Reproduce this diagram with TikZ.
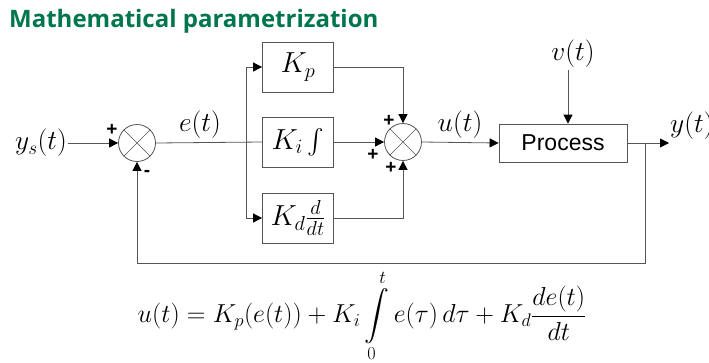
\RequirePackage{fix-cm}
\documentclass[tikz,border=0pt]{standalone}
\usepackage{fontspec}
\usepackage{amsmath}
\newfontfamily\titlefont{Open Sans}
\newfontfamily\procfont{Liberation Sans}
\usetikzlibrary{arrows.meta,calc}
\definecolor{titlegreen}{RGB}{0,118,76}
\definecolor{linegray}{RGB}{85,85,85}
\begin{document}
\begin{tikzpicture}[x=1pt,y=-1pt,
  wire/.style={draw=linegray,line width=0.8pt},
  arr/.style={wire,-{Triangle[length=9pt,width=9pt,color=black]}},
  block/.style={draw=linegray,line width=0.8pt,fill=white,minimum width=71pt,minimum height=50pt,inner sep=0pt,font=\fontsize{29}{33}\selectfont},
  sumnode/.style={circle,draw=linegray,line width=0.8pt,minimum size=37pt,inner sep=0pt},
  lab/.style={font=\fontsize{27.5}{31}\selectfont,inner sep=1pt},
  sign/.style={font=\procfont\bfseries\fontsize{19}{19}\selectfont,inner sep=0pt}]
\useasboundingbox (0,0) rectangle (709,362);
\node[anchor=base west,text=titlegreen,font=\titlefont\bfseries\fontsize{24}{28}\selectfont,inner sep=0pt] (title) at (9,27) {Mathematical parametrization};
% summing junctions
\node[sumnode] (s1) at (137,143) {};
\draw[linegray,line width=0.6pt] (s1.north west) -- (s1.south east) (s1.north east) -- (s1.south west);
\node[sumnode] (s2) at (403,142) {};
\draw[linegray,line width=0.6pt] (s2.north west) -- (s2.south east) (s2.north east) -- (s2.south west);
% blocks
\node[block] (kp) at (298,67) {$K_p$};
\node[block] (ki) at (298,142) {$K_i\int$};
\node[block] (kd) at (298,218) {$K_d\frac{d}{dt}$};
\node[draw=linegray,line width=0.8pt,minimum width=128pt,minimum height=38pt,inner sep=0pt,font=\procfont\fontsize{23}{27}\selectfont] (proc) at (563,143) {Process};
% labels
\node[lab] (ys) at (41,143) {$y_s(t)$};
\node[lab] (e) at (200,125) {$e(t)$};
\node[lab] (u) at (460,125) {$u(t)$};
\node[lab] (v) at (573,54) {$v(t)$};
\node[lab,anchor=west] (y) at (669,126) {$y(t)$};
% coordinates
\coordinate (br) at (246,142);
\coordinate (fb) at (645,143);
\coordinate (fbr) at (645,263);
\coordinate (fbl) at (137,263);
\coordinate (yend) at (669,143);
\coordinate (vtop) at (568,70);
% connectors
\draw[arr] (ys.east) -- (s1.west);
\draw[wire] (s1.east) -- (ki.west);
\draw[arr] (br) |- (kp.west);
\draw[arr] (br) |- (kd.west);
\draw[arr] (kp.east) -| (s2.north);
\draw[arr] (kd.east) -| (s2.south);
\draw[arr] (ki.east) -- (s2.west);
\draw[arr] (s2.east) -- (proc.west);
\draw[arr] (vtop) -- (vtop |- proc.north);
\draw[arr] (proc.east) -- (yend);
\draw[arr] (fb) -- (fbr) -- (fbl) -- (s1.south);
% signs
\node[sign] (p1) at (112,130) {+};
\node[sign] (m1) at (147,173) {-};
\node[sign] (p2) at (389,121) {+};
\node[sign] (p3) at (373,155) {+};
\node[sign] (p4) at (391,168) {+};
% equation
\node[font=\fontsize{26}{30}\selectfont] (eq) at (362,316) {$\displaystyle u(t) = K_p(e(t)) + K_i \int\limits_{0}^{t} e(\tau)\,d\tau + K_d\frac{de(t)}{dt}$};
\end{tikzpicture}
\end{document}
